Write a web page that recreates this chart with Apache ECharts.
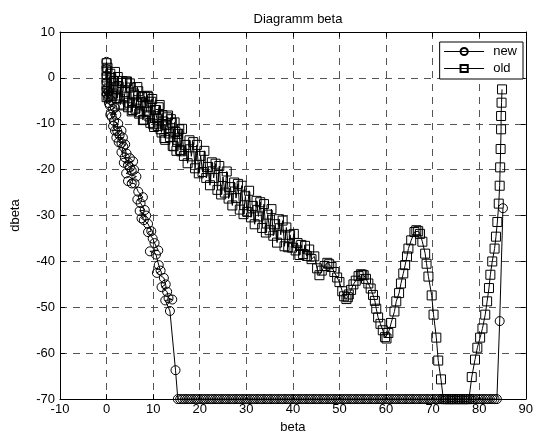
<!DOCTYPE html>
<html>
<head>
<meta charset="utf-8">
<script src="https://cdn.jsdelivr.net/npm/echarts@6/dist/echarts.min.js"></script>
<style>
  html, body { margin: 0; padding: 0; background: #fff; }
  #main { width: 536px; height: 439px; }
</style>
</head>
<body>
<div id="main"></div>
<script>
// axis ticks
var xTicks = [-10, 0, 10, 20, 30, 40, 50, 60, 70, 80, 90];
var yTicks = [-70, -60, -50, -40, -30, -20, -10, 0, 10];

// "new" series: steep drop, then stuck on the -70 floor, then the jump at the end
var newHead = [
  [0, 3.5], [0, 2], [0, 0.5], [0, -1], [0, -2.5], [0.4, -3], [0.1, -3.5], [0.3, -4.5], [0.9, -4.8], [0.5, -5.5],
  [0.7, -6], [1.8, -6.5], [1.3, -6.8], [2.1, -8], [0.8, -8], [1.1, -8.5], [1.6, -9.4], [2.5, -10], [1.4, -10.5], [1.8, -11.5],
  [3.2, -11.5], [2.3, -11.6], [2.8, -12.5], [2.1, -13], [3.5, -13], [2.6, -14], [3.2, -14.2], [4.0, -14.5], [3.6, -15], [3.2, -16.2],
  [4.3, -16.5], [3.9, -17.3], [5, -17.5], [5.7, -18.2], [3.7, -18.5], [4.6, -19], [5, -19.5], [5.9, -20], [5.4, -20.2], [4.2, -20.8],
  [6.4, -21.5], [4.6, -22.5], [5.4, -23], [6.0, -23], [6.8, -24.8], [7.8, -26], [6.6, -26.5], [7.3, -27.3], [8.2, -28.8], [7.1, -29],
  [8.5, -30], [7.5, -30.6], [8.0, -31], [8.9, -31.8], [9.6, -33.4], [8.9, -33.6], [9.9, -35], [10.3, -36], [11.1, -37.6], [9.3, -37.8],
  [10.6, -38.5], [11.2, -40.8], [11.6, -42], [10.8, -42.5], [12.3, -43.6], [12.7, -45], [11.8, -45.6], [13, -46.6], [13.3, -48], [14.1, -48.3],
  [12.6, -48.5], [13.6, -50.8], [14.8, -63.7], [15.3, -70]
];
var newFloorValue = -70;
var newFloorBeta = [
  15.8, 16.3, 16.8, 17.3, 17.8, 18.3, 18.8, 19.3, 19.8, 20.3, 20.8, 21.3, 21.8, 22.3, 22.8, 23.3, 23.8, 24.3, 24.8, 25.3,
  25.8, 26.3, 26.8, 27.3, 27.8, 28.3, 28.8, 29.3, 29.8, 30.3, 30.8, 31.3, 31.8, 32.3, 32.8, 33.3, 33.8, 34.3, 34.8, 35.3,
  35.8, 36.3, 36.8, 37.3, 37.8, 38.3, 38.8, 39.3, 39.8, 40.3, 40.8, 41.3, 41.8, 42.3, 42.8, 43.3, 43.8, 44.3, 44.8, 45.3,
  45.8, 46.3, 46.8, 47.3, 47.8, 48.3, 48.8, 49.3, 49.8, 50.3, 50.8, 51.3, 51.8, 52.3, 52.8, 53.3, 53.8, 54.3, 54.8, 55.3,
  55.8, 56.3, 56.8, 57.3, 57.8, 58.3, 58.8, 59.3, 59.8, 60.3, 60.8, 61.3, 61.8, 62.3, 62.8, 63.3, 63.8, 64.3, 64.8, 65.3,
  65.8, 66.3, 66.8, 67.3, 67.8, 68.3, 68.8, 69.3, 69.8, 70.3, 70.8, 71.3, 71.8, 72.3, 72.8, 73.3, 73.8, 74.3, 74.8, 75.3,
  75.8, 76.3, 76.8, 77.3, 77.8, 78.3, 78.8, 79.3, 79.8, 80.3, 80.8, 81.3, 81.8, 82.3, 82.8, 83.3, 83.8
];
var newTail = [[84.4, -53], [85.1, -28.4]];

// "old" series: noisy band down to ~45, the waves, floor, then the climb back
var oldHead = [[0, 3.2], [0, 1.6], [0, 0.1], [0, -1.4], [0, -2.9], [0, -4.2]];
var oldBand = [
  [0.2, 2.2], [0.4, -2.3], [0.6, -3.9], [0.8, 0.9], [1.0, 0.0], [1.2, -3.9], [1.4, -3.4], [1.6, -0.7], [1.8, 1.3], [2.0, -2.3],
  [2.2, -4.4], [2.4, 0.2], [2.6, -1.9], [2.8, -4.5], [3.0, -5.8], [3.2, -1.1], [3.4, -0.7], [3.6, -6.0], [3.8, -4.1], [4.0, -3.1],
  [4.2, -0.8], [4.4, -0.8], [4.6, -6.4], [4.8, -5.4], [5.0, -1.2], [5.2, -2.1], [5.4, -7.3], [5.6, -7.0], [5.8, -3.4], [6.0, -3.8],
  [6.2, -6.7], [6.4, -5.4], [6.6, -2.0], [6.8, -2.9], [7.0, -7.8], [7.2, -7.5], [7.4, -5.3], [7.6, -4.2], [7.8, -9.2], [8.0, -9.1],
  [8.2, -4.0], [8.4, -6.2], [8.6, -7.4], [8.8, -3.9], [9.0, -4.2], [9.2, -8.4], [9.4, -9.8], [9.6, -5.2], [9.8, -4.6], [10.0, -10.1],
  [10.2, -10.7], [10.4, -7.0], [10.6, -7.0], [10.8, -8.8], [11.0, -10.5], [11.2, -6.4], [11.4, -5.9], [11.6, -11.2], [11.8, -11.9], [12.0, -8.1],
  [12.2, -9.5], [12.4, -13.1], [12.6, -13.5], [12.8, -10.3], [13.0, -8.6], [13.2, -8.2], [13.4, -12.1], [13.6, -12.9], [13.8, -9.0], [14.0, -9.8],
  [14.2, -14.8], [14.4, -14.9], [14.6, -9.7], [14.8, -11.8], [15.0, -15.9], [15.2, -13.5], [15.4, -12.2], [15.6, -11.2], [15.8, -15.7], [16.0, -16.0],
  [16.2, -11.1], [16.6, -17.0], [17.0, -14.6], [17.4, -18.6], [17.8, -13.6], [18.2, -17.1], [18.6, -14.0], [19.0, -19.7], [19.4, -14.6], [19.8, -20.8],
  [20.2, -17.0], [20.6, -20.5], [21.0, -15.9], [21.4, -21.8], [21.8, -19.4], [22.2, -23.4], [22.6, -18.4], [23.0, -21.8], [23.4, -18.7], [23.8, -24.4],
  [24.2, -19.2], [24.6, -25.4], [25.0, -21.6], [25.4, -25.0], [25.8, -20.4], [26.2, -26.3], [26.6, -23.8], [27.0, -27.8], [27.4, -22.8], [27.8, -26.2],
  [28.2, -23.1], [28.6, -28.7], [29.0, -23.5], [29.4, -29.7], [29.8, -25.8], [30.2, -29.2], [30.6, -24.6], [31.0, -30.4], [31.4, -27.9], [31.8, -31.9],
  [32.2, -26.8], [32.6, -30.2], [33.0, -27.1], [33.4, -32.7], [33.8, -27.5], [34.2, -33.7], [34.6, -29.8], [35.0, -33.2], [35.4, -28.6], [35.8, -34.4],
  [36.2, -31.9], [36.6, -35.9], [37.0, -30.8], [37.4, -34.2], [37.8, -31.1], [38.2, -36.7], [38.6, -32.6], [39.0, -36.9], [39.4, -34.2], [39.8, -37.0],
  [40.2, -34.0], [40.6, -37.6], [41.0, -36.0], [41.4, -38.6], [41.8, -36.4], [42.2, -38.4], [42.6, -36.6], [43.0, -38.8]
];
var oldWave = [
  [43.5, -37.4], [44.0, -39.5], [44.6, -38.9], [45.2, -41.5], [45.7, -43.0], [46.2, -42.0], [46.8, -41.0], [47.4, -40.3], [47.8, -40.6], [48.3, -41.2],
  [48.9, -42.3], [49.5, -43.5], [50.0, -44.5], [50.6, -46.5], [51.0, -47.6], [51.5, -48.2], [51.8, -47.8], [52.0, -47.2], [52.5, -46.2], [53.0, -45.0],
  [53.5, -44.2], [54.1, -43.2], [54.6, -42.8], [54.9, -42.9], [55.2, -43.0], [55.7, -43.8], [56.2, -44.8], [56.7, -45.9], [57.2, -47.3], [57.6, -48.6],
  [57.9, -50.3], [58.3, -52.2], [58.8, -53.6], [59.3, -55.0], [59.8, -56.5], [60.1, -56.8], [60.5, -55.6], [61.1, -53.4], [61.8, -50.9], [62.2, -48.7],
  [62.8, -46.9], [63.2, -44.8], [63.7, -42.6], [64.1, -40.8], [64.5, -38.9], [64.8, -37.2], [65.4, -35.4], [66.1, -33.6], [66.5, -33.2], [66.9, -33.4],
  [67.3, -34.0], [67.8, -35.7], [68.4, -38.3], [68.7, -40.5], [69.1, -43.3], [69.8, -47.4], [70.2, -51.6], [70.8, -56.6], [71.2, -61.6], [71.8, -65.7],
  [72.3, -70]
];
var oldFloorValue = -70;
var oldFloorBeta = [72.8, 73.3, 73.8, 74.3, 74.8, 75.3, 75.8, 76.3, 76.8, 77.3, 77.8];
var oldRise = [
  [78.4, -65.2], [79.1, -61.4], [79.6, -58.8], [80.2, -56.6], [80.7, -54.6], [81.3, -51.6], [81.7, -48.7], [82.1, -45.8], [82.4, -42.9], [82.8, -40.0],
  [83.3, -37.2], [83.6, -34.6], [83.9, -31.4], [84.2, -27.4], [84.4, -23.5], [84.5, -19.5], [84.6, -15.5], [84.7, -11.2], [84.7, -8.3], [84.8, -5.4],
  [84.9, -2.5]
];

var newData = newHead
  .concat(newFloorBeta.map(function (b) { return [b, newFloorValue]; }))
  .concat(newTail);
var oldData = oldHead
  .concat(oldBand)
  .concat(oldWave)
  .concat(oldFloorBeta.map(function (b) { return [b, oldFloorValue]; }))
  .concat(oldRise);

var FONT = 'Liberation Sans, Arial, Helvetica, sans-serif';

var chart = echarts.init(document.getElementById('main'), null, { renderer: 'canvas' });

function frameAxis(extra) {
  // common look of the four box sides (matlab style, ticks inside)
  var base = {
    type: 'value',
    axisLine: { show: true, onZero: false, lineStyle: { color: '#000', width: 1 } },
    axisTick: { show: true, inside: true, length: 5, lineStyle: { color: '#000' } },
    axisLabel: { show: false },
    splitLine: { show: false }
  };
  return Object.assign(base, extra);
}

var gridLine = {
  show: true,
  showMinLine: false,
  showMaxLine: false,
  lineStyle: { color: '#555', width: 1, type: [7, 6] }
};

var option = {
  animation: false,
  backgroundColor: '#fff',
  title: {
    text: 'Diagramm beta',
    left: 293,
    top: 8,
    textAlign: 'center',
    textStyle: { fontFamily: FONT, fontSize: 13, fontWeight: 'normal', color: '#000' }
  },
  grid: { left: 60, right: 9, top: 32, bottom: 37, containLabel: false },
  legend: {
    orient: 'vertical',
    right: 13,
    top: 42,
    backgroundColor: '#fff',
    borderColor: '#000',
    borderWidth: 1,
    borderRadius: 0,
    padding: [3, 6, 4, 4],
    itemWidth: 40,
    itemHeight: 9,
    itemGap: 4,
    lineStyle: { width: 1 },
    textStyle: { fontFamily: FONT, fontSize: 13, color: '#000', padding: [0, 0, 0, 4] },
    data: ['new', 'old']
  },
  xAxis: [
    frameAxis({
      min: xTicks[0], max: xTicks[xTicks.length - 1], interval: 10,
      position: 'bottom',
      name: 'beta', nameLocation: 'middle', nameGap: 17,
      nameTextStyle: { fontFamily: FONT, fontSize: 13, color: '#000' },
      axisLabel: { show: true, margin: 4, fontFamily: FONT, fontSize: 13, color: '#000' },
      splitLine: gridLine
    }),
    frameAxis({ min: xTicks[0], max: xTicks[xTicks.length - 1], interval: 10, position: 'top' })
  ],
  yAxis: [
    frameAxis({
      min: yTicks[0], max: yTicks[yTicks.length - 1], interval: 10,
      position: 'left',
      name: 'dbeta', nameLocation: 'middle', nameGap: 38, nameRotate: 90,
      nameTextStyle: { fontFamily: FONT, fontSize: 13, color: '#000' },
      axisLabel: { show: true, margin: 5, fontFamily: FONT, fontSize: 13, color: '#000' },
      splitLine: gridLine
    }),
    frameAxis({ min: yTicks[0], max: yTicks[yTicks.length - 1], interval: 10, position: 'right' })
  ],
  series: [
    {
      name: 'new',
      type: 'line',
      data: newData,
      symbol: 'circle',
      symbolSize: 9,
      lineStyle: { color: '#000', width: 1 },
      itemStyle: { color: 'rgba(0,0,0,0)', borderColor: '#000', borderWidth: 1 },
      emphasis: { disabled: true }
    },
    {
      name: 'old',
      type: 'line',
      data: oldData,
      symbol: 'rect',
      symbolSize: 9,
      lineStyle: { color: '#000', width: 1 },
      itemStyle: { color: 'rgba(0,0,0,0)', borderColor: '#000', borderWidth: 1 },
      emphasis: { disabled: true }
    }
  ]
};

chart.setOption(option);
</script>
</body>
</html>
